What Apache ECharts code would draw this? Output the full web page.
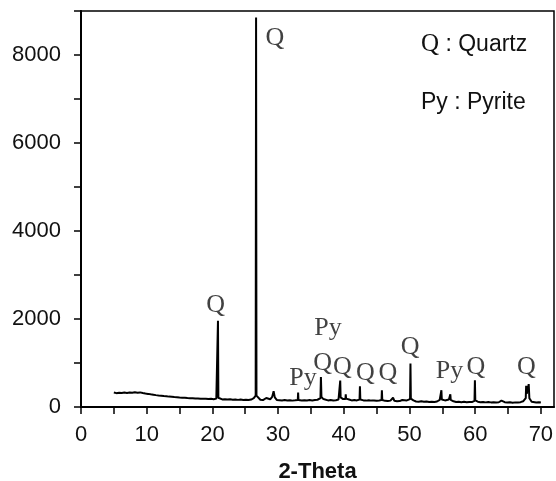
<!DOCTYPE html>
<html>
<head>
<meta charset="utf-8">
<script src="https://cdn.jsdelivr.net/npm/echarts@6/dist/echarts.min.js"></script>
<style>
  html, body { margin: 0; padding: 0; background: #fff; }
  #xrd { width: 556px; height: 481px; }
</style>
</head>
<body>
<div id="xrd"></div>
<script>
// diffraction pattern
var twoTheta = [
  5.0, 5.4, 5.8, 6.2, 6.6, 7.0, 7.4, 7.8, 8.2, 8.6, 9.0, 9.4, 9.8, 10.2, 10.6, 11.0,
  11.4, 11.8, 12.2, 12.6, 13.0, 13.4, 13.8, 14.2, 14.6, 15.0, 15.4, 15.8, 16.2, 16.6,
  17.0, 17.4, 17.8, 18.2, 18.6, 19.0, 19.4, 19.8, 20.2, 20.6, 20.79, 20.85, 20.91,
  21.1, 21.5, 21.9, 22.3, 22.7, 23.1, 23.5, 23.9, 24.3, 24.7, 25.1, 25.5, 25.9, 26.3,
  26.59, 26.65, 26.71, 27.0, 27.3, 27.7, 28.0, 28.2, 28.4, 28.8, 29.1, 29.32, 29.5,
  29.8, 30.2, 30.6, 31.0, 31.4, 31.8, 32.2, 32.6, 33.0, 33.05, 33.1, 33.6, 34.0, 34.4,
  34.8, 35.2, 35.6, 36.0, 36.45, 36.52, 36.6, 36.9, 37.2, 37.6, 38.0, 38.4, 38.8, 39.2,
  39.4, 39.46, 39.52, 39.9, 40.25, 40.3, 40.35, 40.8, 41.2, 41.6, 42.0, 42.4, 42.46,
  42.52, 43.0, 43.4, 43.8, 44.2, 44.6, 45.0, 45.4, 45.75, 45.8, 45.86, 46.3, 46.7,
  47.1, 47.5, 47.7, 48.1, 48.5, 48.9, 49.2, 49.6, 50.09, 50.15, 50.21, 50.6, 51.0,
  51.4, 51.8, 52.2, 52.6, 53.0, 53.4, 53.8, 54.2, 54.6, 54.8, 54.86, 54.92, 55.4,
  55.7, 56.0, 56.15, 56.22, 56.28, 56.7, 57.1, 57.5, 57.9, 58.3, 58.7, 59.1, 59.5,
  59.9, 59.96, 60.02, 60.4, 60.8, 61.2, 61.6, 62.0, 62.4, 62.8, 63.2, 63.6, 64.0,
  64.2, 64.5, 64.9, 65.3, 65.7, 66.1, 66.5, 66.9, 67.3, 67.7, 67.76, 67.85, 68.15,
  68.25, 68.6, 68.9, 69.3, 69.7, 70.0
];
var counts = [
  330, 315, 325, 318, 328, 320, 330, 322, 335, 325, 332, 318, 305, 298, 288, 280,
  270, 262, 258, 248, 245, 236, 232, 225, 222, 215, 210, 212, 204, 200,
  198, 192, 195, 188, 185, 190, 180, 185, 178, 190, 200, 1960, 210,
  185, 172, 178, 168, 175, 165, 170, 162, 168, 160, 165, 158, 170, 200,
  260, 8850, 260, 220, 165, 158, 170, 205, 160, 175, 230, 360, 220,
  160, 155, 150, 158, 148, 155, 145, 152, 160, 330, 160, 150, 155, 148,
  158, 150, 160, 165, 200, 680, 230, 180, 160, 150, 160, 150, 155, 170,
  190, 600, 220, 180, 180, 290, 190, 170, 150, 160, 150, 170, 470,
  170, 150, 145, 155, 145, 150, 140, 150, 160, 380, 160, 140, 135,
  145, 210, 140, 130, 135, 160, 175, 150, 180, 990, 190, 150, 125,
  120, 130, 118, 125, 115, 122, 115, 125, 160, 170, 380, 170, 150,
  130, 170, 160, 290, 160, 130, 115, 120, 110, 118, 108, 115, 112,
  140, 610, 150, 120, 110, 115, 105, 112, 105, 110, 102, 108, 145,
  160, 110, 100, 108, 98, 105, 100, 110, 130, 200, 480, 300, 520,
  200, 120, 105, 100, 108, 100
];

// phase labels above the peaks
var peakText = ['Q', 'Q', 'Py', 'Py', 'Q', 'Q', 'Q', 'Q', 'Q', 'Py', 'Q', 'Q'];
var peakX = [20.5, 29.5, 33.8, 37.6, 36.8, 39.8, 43.3, 46.7, 50.1, 56.1, 60.1, 67.8];
var peakY = [2320, 8390, 650, 1790, 990, 900, 780, 780, 1370, 820, 910, 910];

var xTicks = [0, 5, 10, 15, 20, 25, 30, 35, 40, 45, 50, 55, 60, 65, 70];
var xTickLabels = [0, 10, 20, 30, 40, 50, 60, 70];
var yTicks = [0, 1000, 2000, 3000, 4000, 5000, 6000, 7000, 8000, 9000];
var yTickLabels = [0, 2000, 4000, 6000, 8000];

var chart = echarts.init(document.getElementById('xrd'));

var pattern = twoTheta.map(function (t, i) { return [t, counts[i]]; });
var tags = peakX.map(function (x, i) {
  return { value: [x, peakY[i]], name: peakText[i] };
});

var sans = 'Liberation Sans, Arial, sans-serif';
var serif = 'Liberation Serif, Times New Roman, serif';

var option = {
  animation: false,
  backgroundColor: '#fff',
  grid: {
    left: 81, right: 2, top: 11, bottom: 74,
    outerBoundsMode: 'none',
    show: true, borderColor: '#000', borderWidth: 1.5
  },
  xAxis: {
    type: 'value',
    min: 0, max: 72,
    name: '2-Theta',
    nameLocation: 'middle',
    nameGap: 54,
    nameTextStyle: { fontFamily: sans, fontWeight: 'bold', fontSize: 22, color: '#111' },
    axisLine: { lineStyle: { color: '#000', width: 2 } },
    axisTick: { customValues: xTicks, length: 7, lineStyle: { color: '#000', width: 1.5 } },
    axisLabel: { customValues: xTickLabels, margin: 17, fontFamily: sans, fontSize: 22, color: '#111' },
    splitLine: { show: false }
  },
  yAxis: {
    type: 'value',
    min: 0, max: 9000,
    axisLine: { show: true, lineStyle: { color: '#000', width: 2 } },
    axisTick: { show: true, customValues: yTicks, length: 7, lineStyle: { color: '#000', width: 1.5 } },
    axisLabel: {
      customValues: yTickLabels, margin: 20, fontFamily: sans, fontSize: 22, color: '#111',
      formatter: function (v) { return String(v); }
    },
    splitLine: { show: false }
  },
  series: [
    {
      type: 'line',
      data: pattern,
      showSymbol: false,
      symbol: 'none',
      lineStyle: { color: '#000', width: 2 }
    },
    {
      type: 'scatter',
      data: tags,
      symbolSize: 0,
      label: {
        show: true,
        position: 'inside',
        formatter: '{b}',
        fontFamily: serif,
        fontSize: 26,
        color: '#111'
      }
    }
  ],
  graphic: [
    {
      type: 'text', left: 421, top: 32,
      style: {
        text: '{q|Q} : Quartz',
        rich: { q: { fontFamily: serif, fontSize: 25, fill: '#111' } },
        font: '23px ' + sans, fill: '#111'
      }
    },
    {
      type: 'text', left: 421, top: 91,
      style: { text: 'Py : Pyrite', font: '23px ' + sans, fill: '#111' }
    }
  ]
};

chart.setOption(option);
</script>
</body>
</html>
